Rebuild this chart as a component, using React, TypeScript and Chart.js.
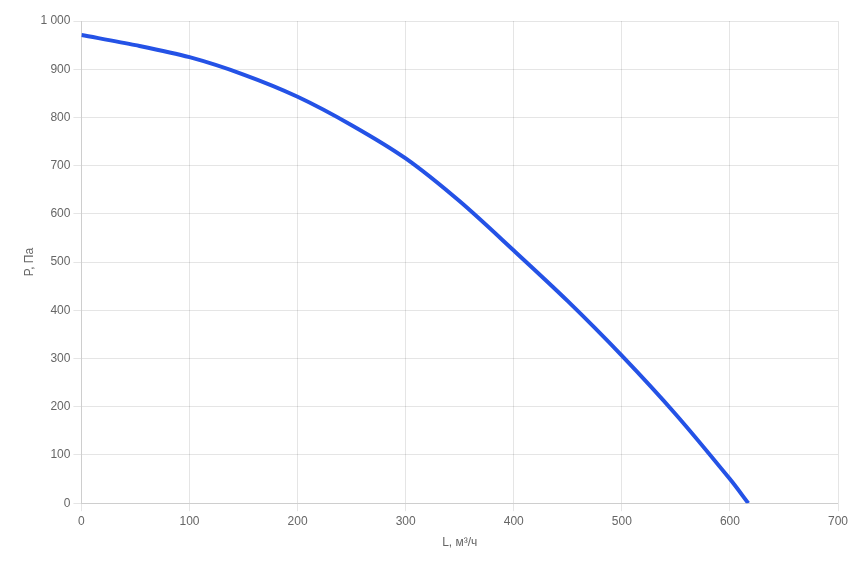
import React, { useEffect, useRef } from "react";
import { Chart, registerables } from "chart.js";

Chart.register(...registerables);

const flowValues = [0, 50, 100, 150, 200, 250, 300, 350, 400, 450, 500, 550, 600, 617];
const pressureValues = [971, 950, 925, 889, 843, 784, 715, 626, 524, 419, 306, 184, 50, 0];
const xTitle = "L, м³/ч";
const yTitle = "P, Па";

const FONT = "'Liberation Sans', Arial, Helvetica, sans-serif";

export default function App() {
  const ref = useRef<HTMLCanvasElement | null>(null);
  useEffect(() => {
    if (!ref.current) return;
    const chart = new Chart(ref.current, {
      type: "line",
      data: {
        datasets: [
          {
            data: flowValues.map((x, i) => ({ x, y: pressureValues[i] })),
            borderColor: "#2452e6",
            borderWidth: 4,
            pointRadius: 0,
            tension: 0.3,
            fill: false,
          },
        ],
      },
      options: {
        animation: false,
        responsive: true,
        maintainAspectRatio: false,
        layout: { padding: { left: 10, right: 22, top: 13, bottom: 0 } },
        plugins: { legend: { display: false }, tooltip: { enabled: false } },
        scales: {
          x: {
            type: "linear",
            min: 0,
            max: 700,
            ticks: { stepSize: 100, color: "#666", font: { family: FONT, size: 12 } },
            title: { display: true, text: xTitle, color: "#666", font: { family: FONT, size: 12 } },
            grid: { color: "rgba(0,0,0,0.1)", drawTicks: true, tickLength: 8 },
          },
          y: {
            min: 0,
            max: 1000,
            ticks: {
              stepSize: 100,
              color: "#666",
              font: { family: FONT, size: 12 },
              callback: (v: any) => String(v).replace(/\B(?=(\d{3})+(?!\d))/g, " "),
            },
            title: {
              display: true,
              text: yTitle,
              color: "#666",
              font: { family: FONT, size: 12 },
              padding: { top: 4, bottom: 1 },
            },
            grid: { color: "rgba(0,0,0,0.1)", drawTicks: true, tickLength: 8 },
          },
        },
      },
    });
    return () => chart.destroy();
  }, []);
  return (
    <div style={{ width: 852, height: 546, position: "relative" }}>
      <canvas ref={ref} />
    </div>
  );
}
